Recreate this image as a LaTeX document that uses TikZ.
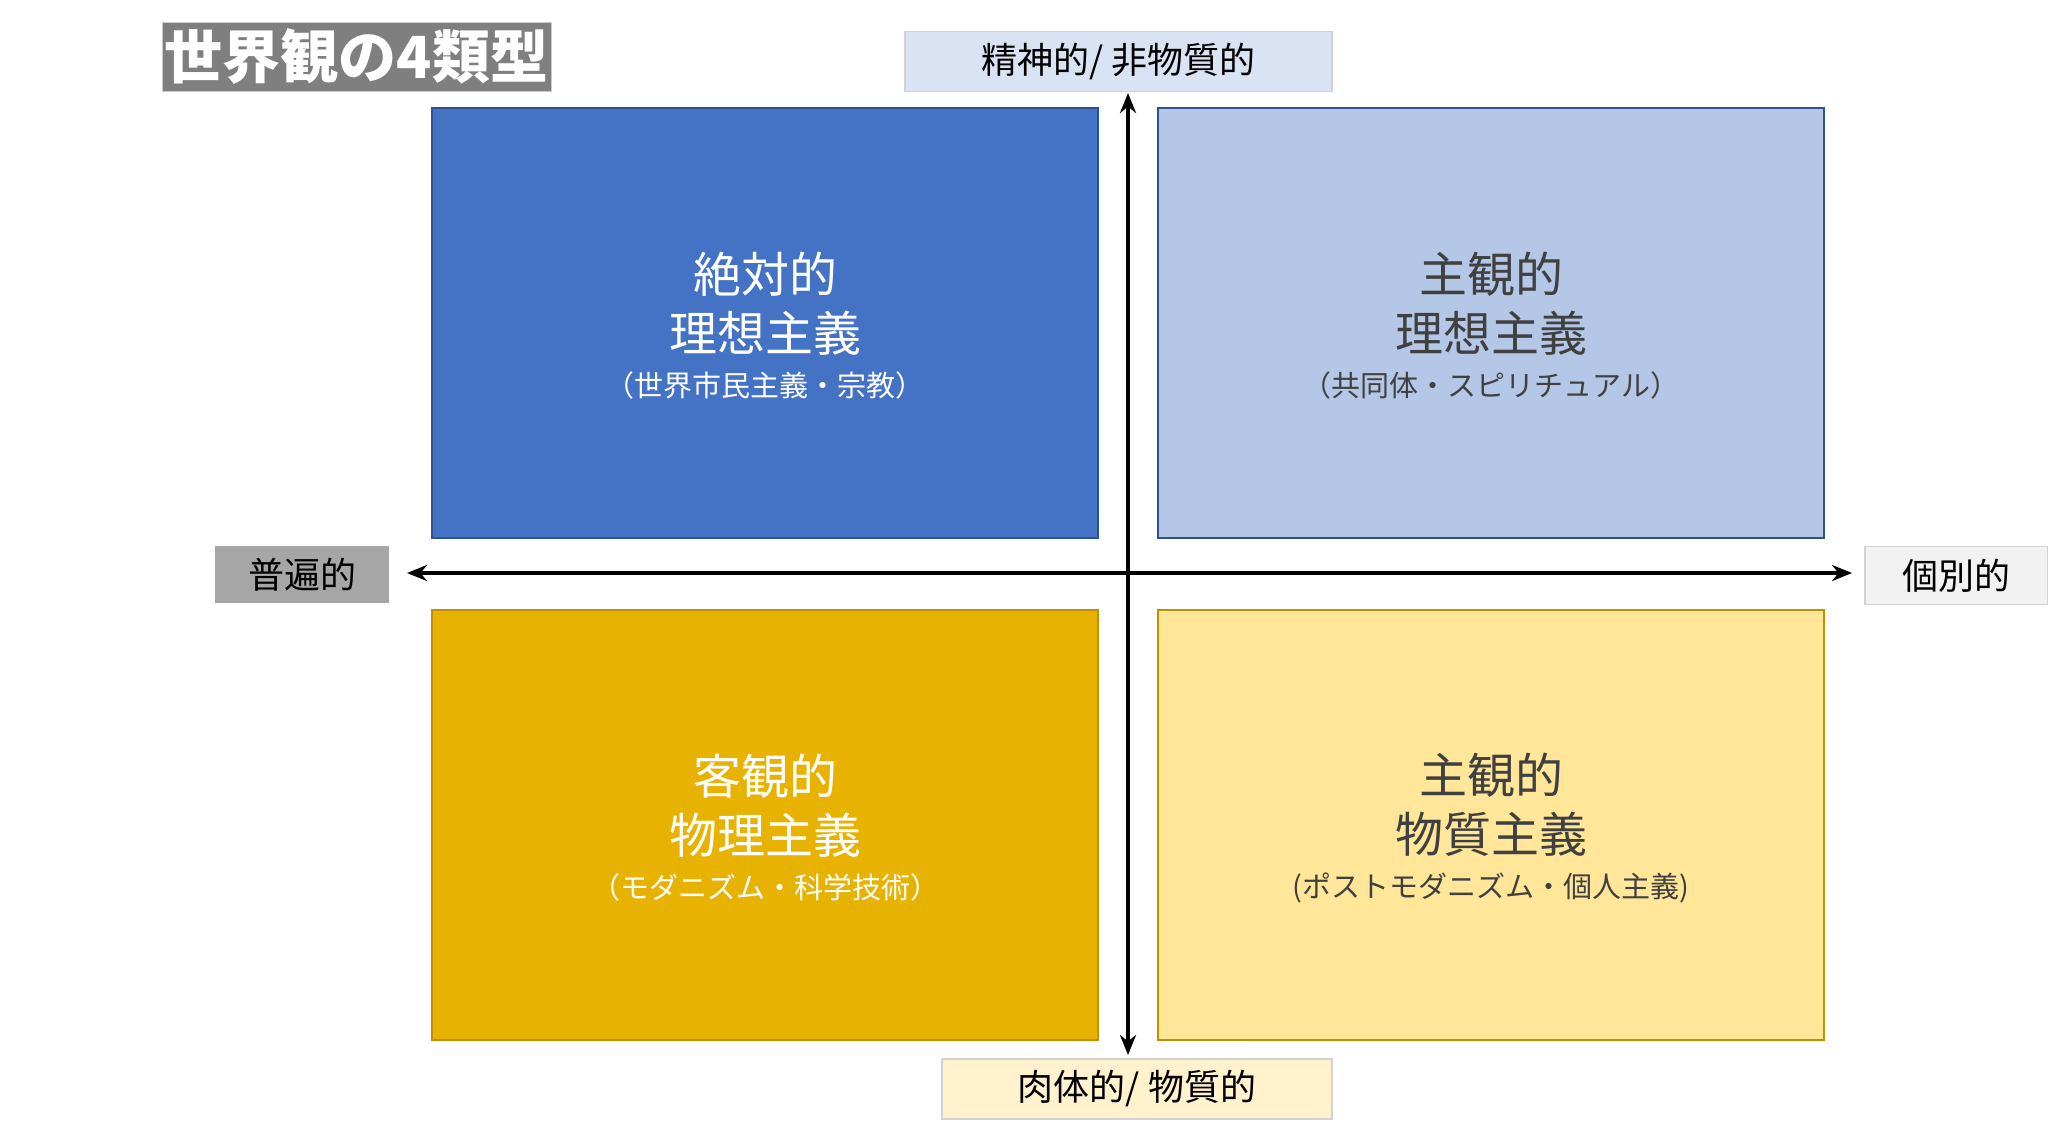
\documentclass[tikz,border=0pt]{standalone}
\usepackage{fontspec}
\setmainfont{Noto Sans CJK JP}
\usepackage{xcolor}
\usetikzlibrary{arrows.meta}
\definecolor{titlegray}{HTML}{7F7F7F}
\definecolor{qblue}{HTML}{4472C4}
\definecolor{qbluedark}{HTML}{2F528F}
\definecolor{qlightblue}{HTML}{B4C7E7}
\definecolor{qgold}{HTML}{E8B200}
\definecolor{qgolddark}{HTML}{BF9000}
\definecolor{qlightgold}{HTML}{FFE699}
\definecolor{toplbl}{HTML}{DAE3F3}
\definecolor{botlbl}{HTML}{FFF2CC}
\definecolor{leftlbl}{HTML}{A6A6A6}
\definecolor{rightlbl}{HTML}{F2F2F2}
\definecolor{darktext}{HTML}{404040}

\begin{document}
\begin{tikzpicture}[x=0.5pt, y=-0.5pt,
  quad/.style={draw, line width=1pt, minimum width=333pt, minimum height=215pt, inner sep=0pt},
  qtext/.style={align=center, font=\fontsize{24}{29.5}\selectfont},
  axlbl/.style={draw=gray!35, line width=0.6pt, inner sep=0pt, font=\fontsize{18}{22}\selectfont}]
\useasboundingbox (0,0) rectangle (2048,1135);
% 題
\node [fill=titlegray, draw=gray!40, minimum width=194.5pt, minimum height=34.5pt, inner sep=0pt,
  text=white, font=\fontsize{29}{32}\selectfont\bfseries] (title) at (356.5,56.5) {世界観の4類型};
% 象限
\node [quad, fill=qblue, draw=qbluedark] (q1) at (765,323) {};
\node [quad, fill=qlightblue, draw=qbluedark] (q2) at (1491,323) {};
\node [quad, fill=qgold, draw=qgolddark] (q3) at (765,825) {};
\node [quad, fill=qlightgold, draw=qgolddark] (q4) at (1491,825) {};
% 象限の文字
\node [qtext, text=white] (t1) at (765,326) {絶対的\\理想主義\\[-7pt]{\fontsize{14.5}{18}\selectfont （世界市民主義・宗教）}};
\node [qtext, text=darktext] (t2) at (1491,326) {主観的\\理想主義\\[-7pt]{\fontsize{14.5}{18}\selectfont （共同体・スピリチュアル）}};
\node [qtext, text=white] (t3) at (765,828) {客観的\\物理主義\\[-7pt]{\fontsize{14.5}{18}\selectfont （モダニズム・科学技術）}};
\node [qtext, text=darktext] (t4) at (1491,828) {主観的\\物質主義\\[-7pt]{\fontsize{14.5}{18}\selectfont (ポストモダニズム・個人主義)}};
% 軸
\coordinate (w) at (407,573);
\coordinate (e) at (1852,573);
\coordinate (n) at (1128,93);
\coordinate (s) at (1128,1055);
\draw [{Stealth[length=10pt,width=8pt]}-{Stealth[length=10pt,width=8pt]}, line width=2pt] (w) -- (e);
\draw [{Stealth[length=10pt,width=8pt]}-{Stealth[length=10pt,width=8pt]}, line width=2pt] (s) -- (n);
% 軸のラベル
\node [axlbl, fill=toplbl, minimum width=213.5pt, minimum height=30pt] (top) at (1118.5,61.5) {精神的/ 非物質的};
\node [axlbl, fill=botlbl, minimum width=195pt, minimum height=30pt] (bottom) at (1137,1089) {肉体的/ 物質的};
\node [axlbl, fill=leftlbl, draw=none, minimum width=87pt, minimum height=28.5pt] (left) at (302,574.5) {普遍的};
\node [axlbl, fill=rightlbl, minimum width=91.5pt, minimum height=29pt] (right) at (1956.5,575.5) {個別的};
\end{tikzpicture}
\end{document}
